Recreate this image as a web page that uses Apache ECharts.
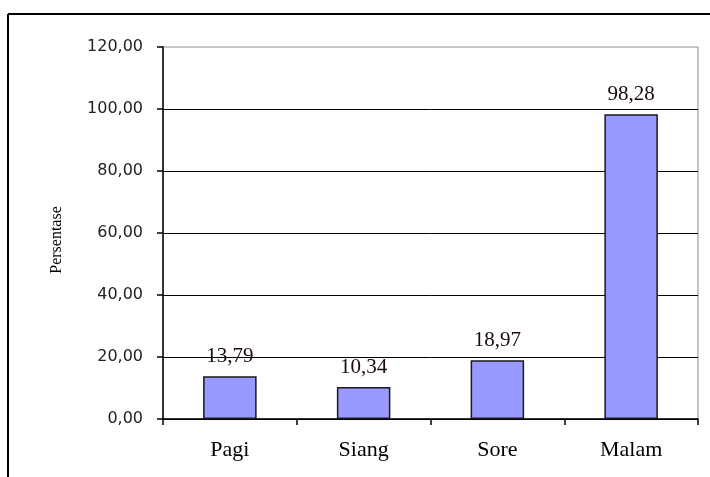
<!DOCTYPE html>
<html><head><meta charset="utf-8">
<script src="https://cdn.jsdelivr.net/npm/echarts@6/dist/echarts.min.js"></script>
<style>html,body{margin:0;padding:0;background:#fff}#c{width:710px;height:477px}</style>
</head><body><div id="c"></div>
<script>
const categories = ['Pagi', 'Siang', 'Sore', 'Malam'];
const values = [13.79, 10.34, 18.97, 98.28];
const yTicks = [0, 20, 40, 60, 80, 100, 120];
const yAxisName = 'Persentase';

const fmt = v => v.toFixed(2).replace('.', ',');
const chart = echarts.init(document.getElementById('c'), null, {renderer: 'canvas'});
chart.setOption({
  animation: false,
  backgroundColor: '#fff',
  graphic: [
    {type: 'line', shape: {x1: 8, y1: 14, x2: 710, y2: 14}, style: {stroke: '#000', lineWidth: 2}, silent: true},
    {type: 'line', shape: {x1: 8, y1: 14, x2: 8, y2: 477}, style: {stroke: '#000', lineWidth: 2}, silent: true},
    {type: 'text', x: 57, y: 240, rotation: Math.PI / 2, style: {text: yAxisName, font: '16px "Liberation Serif", "Times New Roman", serif', fill: '#000', textAlign: 'center', textVerticalAlign: 'middle'}, silent: true}
  ],
  grid: {left: 163, right: 12, top: 47, bottom: 58, show: true, borderColor: '#8a8a8a', borderWidth: 1, backgroundColor: 'transparent'},
  xAxis: {
    type: 'category', data: categories,
    axisLine: {lineStyle: {color: '#000', width: 1.5}},
    axisTick: {show: true, length: 6, lineStyle: {color: '#000', width: 1.5}},
    axisLabel: {margin: 20, fontFamily: '"Liberation Serif", "Times New Roman", serif', fontSize: 22, color: '#000'}
  },
  yAxis: {
    type: 'value', min: yTicks[0], max: yTicks[yTicks.length - 1], interval: 20,
    axisLine: {show: true, lineStyle: {color: '#000', width: 1.5}},
    axisTick: {show: true, length: 6, lineStyle: {color: '#000', width: 1.5}},
    axisLabel: {margin: 20, fontFamily: '"DejaVu Sans", Verdana, sans-serif', fontSize: 16, color: '#222', formatter: v => fmt(v)},
    splitLine: {show: true, showMaxLine: false, lineStyle: {color: '#000', width: 1}}
  },
  series: [{
    type: 'bar', data: values, barWidth: '40%',
    itemStyle: {color: '#9999ff', borderColor: '#1a1a1a', borderWidth: 1.5},
    label: {show: true, position: 'top', distance: 9, formatter: p => fmt(p.value), fontFamily: '"Liberation Serif", "Times New Roman", serif', fontSize: 21, color: '#1a0a0a'}
  }]
});
</script></body></html>
